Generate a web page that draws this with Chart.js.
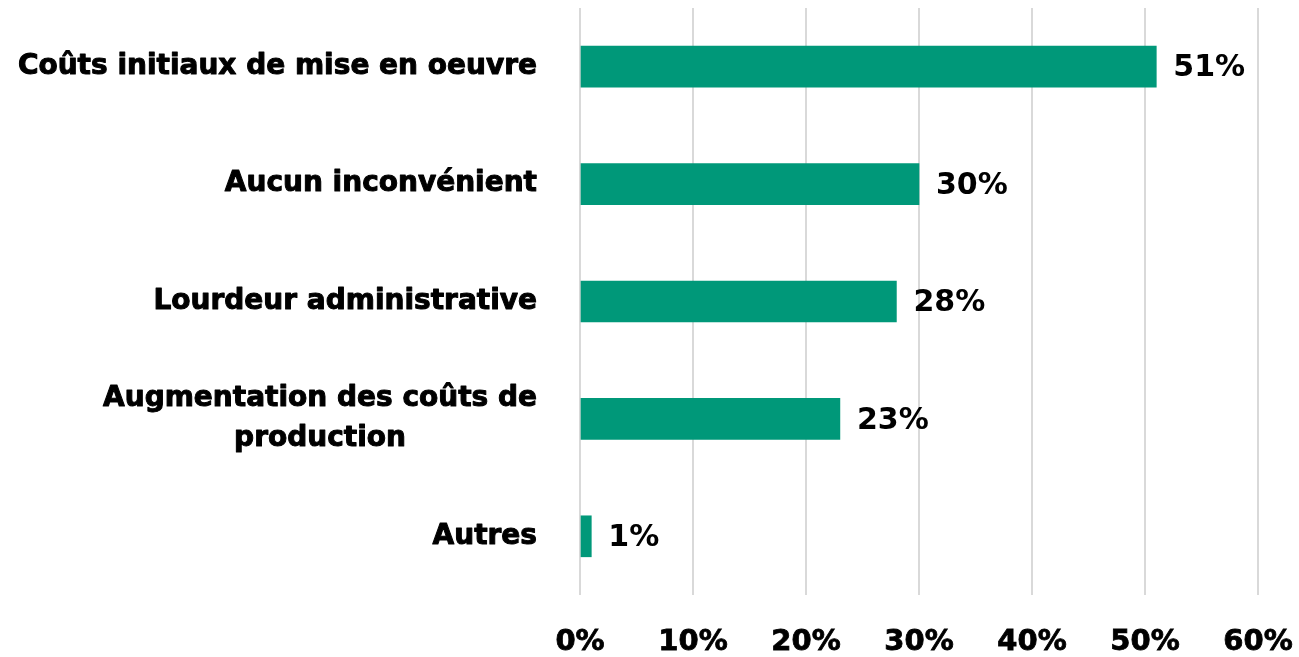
<!DOCTYPE html>
<html lang="fr">
<head>
<meta charset="utf-8">
<title>Inconvénients</title>
<script src="https://cdn.jsdelivr.net/npm/chart.js@4/dist/chart.umd.min.js"></script>
<style>
    html, body { margin: 0; padding: 0; background: #ffffff; }
    #zone { width: 1299px; height: 657px; }
</style>
</head>
<body>
<div id="zone"><canvas id="graphique"></canvas></div>
<script>
// Données
const categories = [
    ['Coûts initiaux de mise en oeuvre'],
    ['Aucun inconvénient'],
    ['Lourdeur administrative'],
    ['Augmentation des coûts de', 'production'],
    ['Autres']
];
const valeurs = [51, 30, 28, 23, 1];
const etiquettes = ['51%', '30%', '28%', '23%', '1%'];
const graduations = [0, 10, 20, 30, 40, 50, 60];

const couleurBarre = '#009879';
const couleurGrille = '#d9d9d9';
const policeGrasse = '"DejaVu Sans", sans-serif';

// Etiquettes de l'axe vertical (centrées ligne par ligne, bloc aligné à droite)
const etiquettesCategories = {
    id: 'etiquettesCategories',
    afterDraw(chart) {
        const ctx = chart.ctx;
        const y = chart.scales.y;
        const droite = chart.chartArea.left - 43;
        const hauteurLigne = 40;
        ctx.save();
        ctx.font = 'bold 28px ' + policeGrasse;
        ctx.fillStyle = '#000000';
        ctx.strokeStyle = '#000000';
        ctx.lineWidth = 1;
        ctx.lineJoin = 'round';
        ctx.textAlign = 'center';
        ctx.textBaseline = 'middle';
        categories.forEach((lignes, i) => {
            const centreY = y.getPixelForTick(i);
            const largeur = Math.max(...lignes.map(l => ctx.measureText(l).width));
            const centreX = droite - largeur / 2;
            const debut = centreY - (lignes.length - 1) * hauteurLigne / 2;
            lignes.forEach((l, j) => {
                ctx.fillText(l, centreX, debut + j * hauteurLigne);
                ctx.strokeText(l, centreX, debut + j * hauteurLigne);
            });
        });
        ctx.restore();
    }
};

// Graduations de l'axe horizontal
const etiquettesAxeX = {
    id: 'etiquettesAxeX',
    afterDraw(chart) {
        const ctx = chart.ctx;
        const x = chart.scales.x;
        const yTexte = chart.chartArea.bottom + 47;
        ctx.save();
        ctx.font = 'bold 29px ' + policeGrasse;
        ctx.fillStyle = '#000000';
        ctx.strokeStyle = '#000000';
        ctx.lineWidth = 0.8;
        ctx.textAlign = 'center';
        ctx.textBaseline = 'middle';
        graduations.forEach(v => {
            const px = x.getPixelForValue(v);
            ctx.fillText(v + '%', px, yTexte);
            ctx.strokeText(v + '%', px, yTexte);
        });
        ctx.restore();
    }
};

// Valeurs affichées au bout des barres
const etiquettesValeurs = {
    id: 'etiquettesValeurs',
    afterDatasetsDraw(chart) {
        const ctx = chart.ctx;
        const meta = chart.getDatasetMeta(0);
        ctx.save();
        ctx.font = 'bold 30px ' + policeGrasse;
        ctx.fillStyle = '#000000';
        ctx.textAlign = 'left';
        ctx.textBaseline = 'middle';
        meta.data.forEach((barre, i) => {
            ctx.fillText(etiquettes[i], barre.x + 17, barre.y + 2);
        });
        ctx.restore();
    }
};

const ctx = document.getElementById('graphique').getContext('2d');
new Chart(ctx, {
    type: 'bar',
    data: {
        labels: categories.map(c => c.join(' ')),
        datasets: [{
            data: valeurs,
            backgroundColor: couleurBarre,
            borderWidth: 0,
            barThickness: 41
        }]
    },
    options: {
        indexAxis: 'y',
        responsive: true,
        maintainAspectRatio: false,
        animation: false,
        layout: {
            padding: { top: 8, right: 41, left: 0, bottom: 0 }
        },
        plugins: {
            legend: { display: false },
            tooltip: { enabled: false }
        },
        scales: {
            x: {
                min: 0,
                max: 60,
                afterBuildTicks: (axe) => {
                    axe.ticks = graduations.map(v => ({ value: v }));
                },
                afterFit: (axe) => { axe.height = 62; },
                grid: {
                    color: couleurGrille,
                    lineWidth: 2,
                    drawTicks: false
                },
                border: { display: false },
                ticks: { display: false }
            },
            y: {
                afterFit: (axe) => { axe.width = 580; },
                grid: { display: false },
                border: { display: false },
                ticks: { display: false }
            }
        }
    },
    plugins: [etiquettesCategories, etiquettesAxeX, etiquettesValeurs]
});
</script>
</body>
</html>
